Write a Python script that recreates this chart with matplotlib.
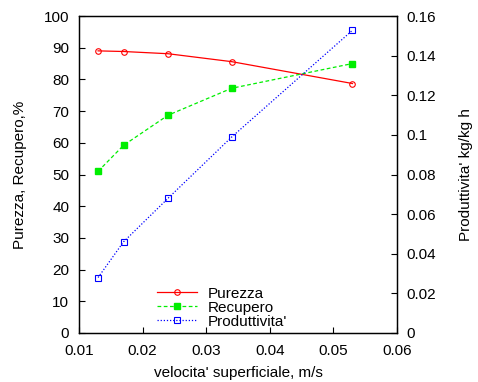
import matplotlib
matplotlib.use("Agg")
import matplotlib.pyplot as plt

plt.rcParams['font.family'] = ['Liberation Sans', 'DejaVu Sans']

velocita = [0.013, 0.017, 0.024, 0.034, 0.053]
purezza = [89.0, 88.8, 88.1, 85.6, 78.7]
recupero = [51.0, 59.2, 68.7, 77.2, 85.0]
produttivita = [0.0280, 0.0460, 0.0680, 0.0989, 0.1528]

fig = plt.figure(figsize=(4.78, 3.82), dpi=100)
ax = fig.add_axes([79/478, 1-333/382, (397-79)/478, (333-16)/382])
ax2 = ax.twinx()

l1, = ax.plot(velocita, purezza, color='#ff0000', lw=0.9, marker='o', ms=4,
              mfc='none', mec='#ff0000', mew=0.8, label='Purezza')
l2, = ax.plot(velocita, recupero, color='#00ee00', lw=0.9, ls=(0, (3, 2)), marker='s', ms=4,
              mfc='#00ee00', mec='#00ee00', label='Recupero')
l3, = ax2.plot(velocita, produttivita, color='#0000ff', lw=0.9, ls=(0, (1, 1.5)), marker='s', ms=4,
               mfc='none', mec='#0000ff', mew=0.8, label="Produttivita'")

ax.set_xlim(0.01, 0.06)
ax.set_ylim(0, 100)
ax2.set_ylim(0, 0.16)
ax.set_xticks([0.01, 0.02, 0.03, 0.04, 0.05, 0.06])
ax.set_xticklabels(['0.01', '0.02', '0.03', '0.04', '0.05', '0.06'])
ax.set_yticks(range(0, 101, 10))
ax2.set_yticks([0, 0.02, 0.04, 0.06, 0.08, 0.1, 0.12, 0.14, 0.16])
ax2.set_yticklabels(['0', '0.02', '0.04', '0.06', '0.08', '0.1', '0.12', '0.14', '0.16'])

for a in (ax, ax2):
    a.tick_params(direction='in', length=4, width=0.8, labelsize=11)
    for s in a.spines.values():
        s.set_linewidth(0.9)
ax.tick_params(axis='x', pad=8)
ax.tick_params(axis='y', pad=7)
ax2.tick_params(axis='y', pad=7)

ax.set_xlabel("velocita' superficiale, m/s", fontsize=11, labelpad=6)
ax.set_ylabel("Purezza, Recupero,%", fontsize=11, labelpad=12)
ax2.set_ylabel("Produttivita' kg/kg h", fontsize=11, labelpad=16)

leg = ax.legend(handles=[l1, l2, l3], loc='lower left', bbox_to_anchor=(0.2025, -0.03),
                frameon=False, fontsize=11, handlelength=2.6, labelspacing=0.0,
                handletextpad=0.7)

fig.savefig('out.png', dpi=100)
